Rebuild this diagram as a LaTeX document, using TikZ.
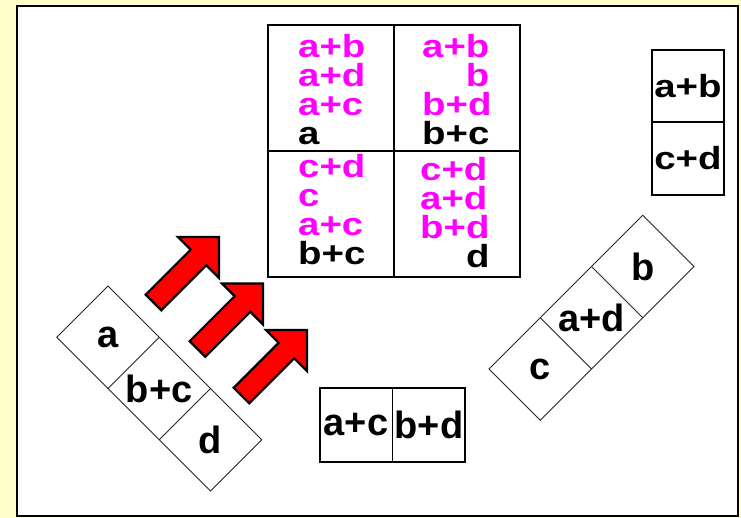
\documentclass[tikz,border=0pt]{standalone}
\usepackage{fontspec}
\setmainfont{Liberation Sans}
\newfontfamily\gridfont[FakeStretch=1.2]{Liberation Sans}
\definecolor{mag}{RGB}{255,0,255}
\definecolor{hell}{RGB}{255,255,204}
\definecolor{pfeilrot}{RGB}{255,0,0}
\newcommand{\Pfeil}[2][]{%
\draw[#1] (#2) -- ++(-41,0) -- ++(12.72,12.72) -- ++(-45,45) -- ++(15.56,15.56)
 -- ++(45,-45) -- ++(12.72,12.72) -- cycle;}
\newcommand{\Zelle}{72.5}

\begin{document}
\begin{tikzpicture}[x=1pt,y=-1pt,line join=miter]
	\tikzstyle{karte}=[draw=black,line width=1.3pt];
	\tikzstyle{streifen}=[draw=black!85,line width=0.9pt];
	\tikzstyle{pfeil}=[fill=pfeilrot,draw=black,line width=2.2pt];
	\tikzstyle{inhalt}=[anchor=north west,inner sep=0pt,align=left,font=\gridfont\bfseries\fontsize{32}{29}\selectfont];
	\tikzstyle{klein}=[inner sep=0pt,font=\gridfont\bfseries\fontsize{32}{29}\selectfont];
	\tikzstyle{gross}=[inner sep=0pt,font=\bfseries\fontsize{38}{38}\selectfont];
%<--------------------------------------------------------------------------->%
	\useasboundingbox (0,0) rectangle (741,518);
	\fill[hell] (0,0) rectangle (741,518);
	\draw[line width=2pt,fill=white] (17,6) rectangle (737.5,516.3);
	%% Tafel
	\coordinate (T1) at (268,25);
	\coordinate (T2) at (520,277);
	\draw[karte] (T1) rectangle (T2);
	\draw[karte] (394,25) -- (394,277);
	\draw[karte] (268,151) -- (520,151);
	\node[inhalt] (ol) at (298,34) {\textcolor{mag}{a+b}\\\textcolor{mag}{a+d}\\\textcolor{mag}{a+c}\\a};
	\node[inhalt] (or) at (422,34) {\textcolor{mag}{a+b}\\\textcolor{mag}{\hphantom{a+}b}\\\textcolor{mag}{b+d}\\b+c};
	\node[inhalt] (ul) at (298,154) {\textcolor{mag}{c+d}\\\textcolor{mag}{c}\\\textcolor{mag}{a+c}\\b+c};
	\node[inhalt] (ur) at (420,157) {\textcolor{mag}{c+d}\\\textcolor{mag}{a+d}\\\textcolor{mag}{b+d}\\\hphantom{b+}d};
	%% rechts oben
	\draw[karte] (652,50) rectangle (724,195);
	\draw[karte] (652,122) -- (724,122);
	\node[klein] (ab) at (688,86) {a+b};
	\node[klein] (cd) at (688,158.5) {c+d};
	%% unten
	\draw[karte] (320,388) rectangle (465,462);
	\draw[karte] (392.5,388) -- (392.5,462);
	\node[gross] (ac) at (356,425) {a+c};
	\node[gross] (bd) at (429,425) {b+d};
	%% Streifen links
	\begin{scope}[shift={(108,286)},rotate=-45]
		\draw[streifen] (0,0) rectangle (3*\Zelle,\Zelle);
		\draw[streifen] (\Zelle,0) -- (\Zelle,\Zelle);
		\draw[streifen] (2*\Zelle,0) -- (2*\Zelle,\Zelle);
		\node[gross] (la) at (0.5*\Zelle,0.5*\Zelle) {a};
		\node[gross] (lbc) at (1.5*\Zelle,0.5*\Zelle) {b+c};
		\node[gross] (ld) at (2.5*\Zelle,0.5*\Zelle) {d};
	\end{scope}
	%% Streifen rechts
	\begin{scope}[shift={(489,369)},rotate=45]
		\draw[streifen] (0,0) rectangle (3*\Zelle,\Zelle);
		\draw[streifen] (\Zelle,0) -- (\Zelle,\Zelle);
		\draw[streifen] (2*\Zelle,0) -- (2*\Zelle,\Zelle);
		\node[gross] (rc) at (0.5*\Zelle,0.5*\Zelle) {c};
		\node[gross] (rad) at (1.5*\Zelle,0.5*\Zelle) {a+d};
		\node[gross] (rb) at (2.5*\Zelle,0.5*\Zelle) {b};
	\end{scope}
	%% Pfeile
	\coordinate (P1) at (219,237);
	\coordinate (P2) at (263,283.5);
	\coordinate (P3) at (307,330);
	\foreach \p in {P1,P2,P3}
		\Pfeil[pfeil]{\p};
\end{tikzpicture}
\end{document}
